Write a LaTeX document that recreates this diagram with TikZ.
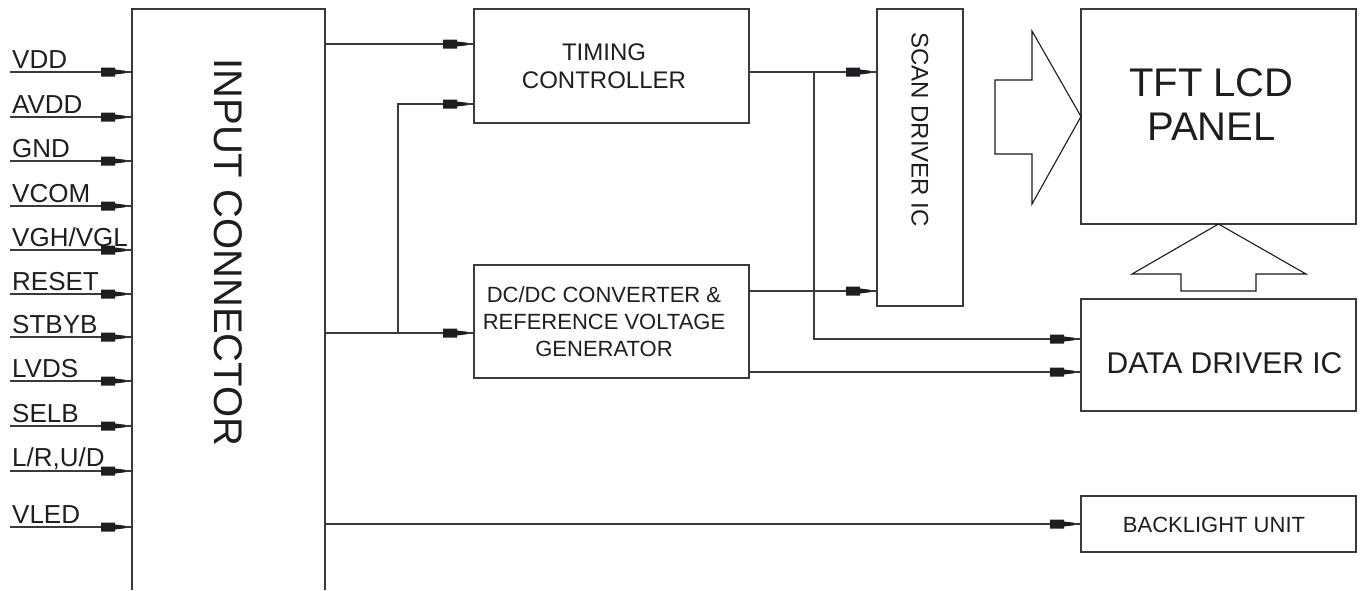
\documentclass[tikz,border=0pt]{standalone}
\usepackage{fontspec}
\setmainfont{Liberation Sans}
\usetikzlibrary{decorations.markings,calc}
\definecolor{linec}{RGB}{55,58,63}
\definecolor{txtc}{RGB}{28,30,34}
\definecolor{arrc}{RGB}{28,30,34}
\tikzset{
  box/.style={draw=linec, line width=1.4pt, rectangle, inner sep=0pt, outer sep=0pt, anchor=north west},
  sig/.style={draw=linec, line width=1.2pt, postaction={decorate},
    decoration={markings, mark=at position -7pt with {\fill[arrc] (-24pt,-4.5pt) -- (-10pt,-4.5pt) -- (-10pt,-2.5pt) -- (0pt,-1.3pt) -- (0pt,1.3pt) -- (-10pt,2.5pt) -- (-10pt,4.5pt) -- (-24pt,4.5pt) -- cycle;}}},
  hollow/.style={draw=black!90, line width=1.1pt, line join=miter},
  lbl/.style={text=txtc, inner sep=0pt, font=\fontsize{26}{30}\selectfont, anchor=base west},
  txt/.style={text=txtc, inner sep=0pt, align=center},
}
\begin{document}
\begin{tikzpicture}[x=1pt,y=-1pt]
\useasboundingbox (0,0) rectangle (1363,590);
% input connector (open at the bottom)
\node[minimum width=193pt, minimum height=581pt, inner sep=0pt, outer sep=0pt, anchor=north west] (ic) at (132,9) {};
\draw[linec, line width=1.4pt] (ic.south west) -- (ic.north west) -- (ic.north east) -- (ic.south east);
\node[txt, rotate=-90, font=\fontsize{40}{44}\selectfont] (ict) at ([yshift=47pt]ic.center) {INPUT CONNECTOR};
% blocks
\node[box, minimum width=275pt, minimum height=114pt] (tc) at (474,9) {};
\node[box, minimum width=275pt, minimum height=113pt] (dc) at (474,265) {};
\node[box, minimum width=86pt, minimum height=297pt] (sd) at (877,9) {};
\node[box, minimum width=275pt, minimum height=215pt] (tft) at (1081,9) {};
\node[box, minimum width=275pt, minimum height=112pt] (dd) at (1081,299) {};
\node[box, minimum width=275pt, minimum height=56pt] (bl) at (1081,496) {};
% block texts
\node[txt, font=\fontsize{24}{28}\selectfont] (tct) at ([xshift=-7.5pt]tc.center) {TIMING\\CONTROLLER};
\node[txt, font=\fontsize{22}{27}\selectfont] (dct) at ([xshift=-7.5pt]dc.center) {DC/DC CONVERTER \&\\REFERENCE VOLTAGE\\GENERATOR};
\node[txt, rotate=-90, font=\fontsize{24}{28}\selectfont] (sdt) at ([yshift=28pt]sd.center) {SCAN DRIVER IC};
\node[txt, font=\fontsize{40}{44}\selectfont] (tftt) at ([xshift=-7pt,yshift=11.5pt]tft.center) {TFT LCD\\PANEL};
\node[txt, font=\fontsize{30}{34}\selectfont] (ddt) at ([xshift=6pt,yshift=-8pt]dd.center) {DATA DRIVER IC};
\node[txt, font=\fontsize{22}{26}\selectfont] (blt) at ([xshift=-4.5pt,yshift=-1pt]bl.center) {BACKLIGHT UNIT};
% input signals
\coordinate (p1) at (10,72);  \node[lbl] (l1) at (12,68) {VDD};
\coordinate (p2) at (10,117); \node[lbl] (l2) at (12,113) {AVDD};
\coordinate (p3) at (10,161); \node[lbl] (l3) at (12,157) {GND};
\coordinate (p4) at (10,206); \node[lbl] (l4) at (12,202) {VCOM};
\coordinate (p5) at (10,250); \node[lbl] (l5) at (12,246) {VGH/VGL};
\coordinate (p6) at (10,294); \node[lbl] (l6) at (12,290) {RESET};
\coordinate (p7) at (10,337); \node[lbl] (l7) at (12,333) {STBYB};
\coordinate (p8) at (10,381); \node[lbl] (l8) at (12,377) {LVDS};
\coordinate (p9) at (10,426); \node[lbl] (l9) at (12,422) {SELB};
\coordinate (p10) at (10,471); \node[lbl] (l10) at (12,466) {L/R,U/D};
\coordinate (p11) at (10,527); \node[lbl] (l11) at (12,523) {VLED};
\foreach \i in {1,...,11} {\draw[sig] (p\i) -- (p\i -| ic.west);}
% connectors
\coordinate (tcin1) at ([yshift=22pt]tc.west);
\coordinate (tcin2) at ([yshift=-38pt]tc.west);
\coordinate (dcin) at ([yshift=-11.5pt]dc.west);
\coordinate (tcout) at ([yshift=-6pt]tc.east);
\coordinate (dcout1) at ([yshift=30.5pt]dc.east);
\coordinate (ddin1) at ([yshift=16pt]dd.west);
\coordinate (ddin2) at ([yshift=-17pt]dd.west);
\coordinate (j1) at (398,333);
\coordinate (j2) at (814,72);
\draw[sig] (tcin1 -| ic.east) -- (tcin1);
\draw[sig] (dcin -| ic.east) -- (dcin);
\draw[sig] (j1) |- (tcin2);
\draw[sig] (tcout) -- (tcout -| sd.west);
\draw[sig] (j2) |- (ddin1);
\draw[sig] (dcout1) -- (dcout1 -| sd.west);
\draw[sig] (ddin2 -| dc.east) -- (ddin2);
\draw[sig] (bl.west -| ic.east) -- (bl.west);
% hollow arrows
\draw[hollow] (995,80) -- (1032,80) -- (1032,31) -- (tft.west) -- (1032,204) -- (1032,154) -- (995,154) -- cycle;
\draw[hollow] (1181,291) -- (1181,274) -- (1132,274) -- (tft.south) -- (1306,274) -- (1256,274) -- (1256,291) -- cycle;
\end{tikzpicture}
\end{document}
